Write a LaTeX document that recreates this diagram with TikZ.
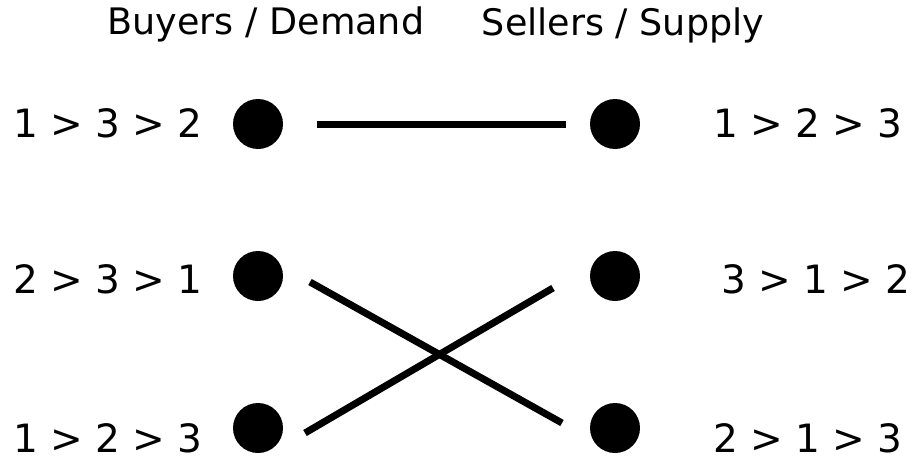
\documentclass[tikz,border=0pt]{standalone}
\usepackage{fontspec}
\setmainfont{DejaVu Sans}
\tikzset{
	dot/.style={black, fill, circle, inner sep=0pt, minimum size=50pt},
	pref/.style={anchor=base west, inner sep=0pt, font=\fontsize{39}{40}\selectfont},
	head/.style={anchor=base, inner sep=0pt, font=\fontsize{36.5}{40}\selectfont},
	match/.style={line width=7pt}
}
\begin{document}
\begin{tikzpicture}[x=1pt, y=-1pt]
			\useasboundingbox (0,0) rectangle (922,458);
			\node[head] at (266,34) (hb) {Buyers / Demand};
			\node[head] at (623,35) (hs) {Sellers / Supply};
			
			\node[dot] at (258,124) (b1) {};
			\node[dot] at (258,276) (b2) {};
			\node[dot] at (258,428) (b3) {};
			\node[dot] at (615,124) (s1) {};
			\node[dot] at (615,276) (s2) {};
			\node[dot] at (615,428) (s3) {};
			
			\node[pref] at (13,137) (pb1) {1 > 3 > 2};
			\node[pref] at (13,293) (pb2) {2 > 3 > 1};
			\node[pref] at (13,452) (pb3) {1 > 2 > 3};
			\node[pref] at (713,137) (ps1) {1 > 2 > 3};
			\node[pref] at (721,293) (ps2) {3 > 1 > 2};
			\node[pref] at (713,452) (ps3) {2 > 1 > 3};
			
			\draw[match] ([shift={(59,0)}]b1.center) -- ([shift={(-49,0)}]s1.center);
			\draw[match] ([shift={(52,6)}]b2.center) -- ([shift={(-53,-5)}]s3.center);
			\draw[match] ([shift={(47,5)}]b3.center) -- ([shift={(-62,12)}]s2.center);
		\end{tikzpicture}
\end{document}
